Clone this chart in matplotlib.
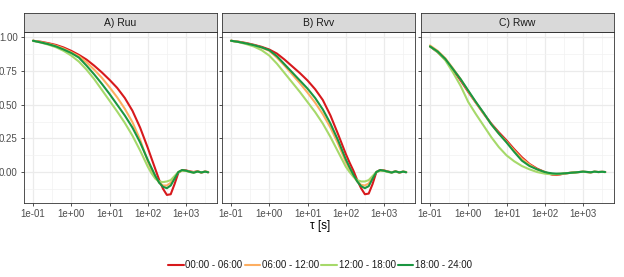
import numpy as np
import matplotlib
matplotlib.use("Agg")
from matplotlib import pyplot as plt

plt.rcParams['font.family'] = ['Liberation Sans', 'DejaVu Sans']

# log10(tau) sample points shared by all curves
log_tau = [-1.0, -0.8, -0.6, -0.4, -0.2, 0.0, 0.2, 0.4, 0.6, 0.8, 1.0, 1.2, 1.4, 1.6,
           1.8, 2.0, 2.1, 2.2, 2.3, 2.4, 2.5, 2.6, 2.7, 2.8, 2.9, 3.0, 3.1, 3.2, 3.3,
           3.4, 3.5, 3.58]

periods = ["00:00 - 06:00", "06:00 - 12:00", "12:00 - 18:00", "18:00 - 24:00"]
colors = ["#D7191C", "#FDAE61", "#A6D96A", "#1A9641"]
panels = ["A) Ruu", "B) Rvv", "C) Rww"]

# A) Ruu
ruu_00 = [0.975, 0.968, 0.957, 0.944, 0.925, 0.90, 0.87, 0.835, 0.79, 0.74, 0.685, 0.625, 0.55, 0.455,
          0.33, 0.18, 0.10, 0.02, -0.06, -0.125, -0.17, -0.165, -0.09, -0.005, 0.015, 0.012, 0.005, 0.0,
          0.006, -0.004, 0.004, -0.002]
ruu_06 = [0.975, 0.965, 0.953, 0.938, 0.917, 0.89, 0.86, 0.815, 0.76, 0.70, 0.63, 0.555, 0.47, 0.37,
          0.24, 0.08, 0.015, -0.04, -0.08, -0.10, -0.10, -0.08, -0.04, 0.0, 0.01, 0.008, 0.002, -0.003,
          0.004, -0.003, 0.003, 0.0]
ruu_12 = [0.975, 0.962, 0.946, 0.927, 0.90, 0.865, 0.82, 0.76, 0.69, 0.61, 0.53, 0.45, 0.365, 0.27,
          0.16, 0.04, -0.01, -0.05, -0.07, -0.075, -0.07, -0.06, -0.03, 0.0, 0.01, 0.008, 0.0, -0.004,
          0.003, -0.002, 0.002, 0.0]
ruu_18 = [0.975, 0.963, 0.95, 0.933, 0.91, 0.884, 0.85, 0.79, 0.725, 0.655, 0.58, 0.50, 0.42, 0.33,
          0.22, 0.09, 0.03, -0.03, -0.08, -0.11, -0.12, -0.10, -0.05, 0.0, 0.015, 0.01, 0.002, -0.005,
          0.004, -0.003, 0.003, -0.002]

# B) Rvv
rvv_00 = [0.975, 0.968, 0.958, 0.945, 0.93, 0.91, 0.88, 0.835, 0.785, 0.735, 0.68, 0.615, 0.535, 0.42,
          0.28, 0.135, 0.07, 0.01, -0.06, -0.12, -0.165, -0.16, -0.09, 0.0, 0.015, 0.012, 0.004, -0.002,
          0.005, -0.004, 0.003, -0.001]
rvv_06 = [0.975, 0.966, 0.955, 0.941, 0.924, 0.90, 0.85, 0.79, 0.725, 0.66, 0.59, 0.515, 0.43, 0.33,
          0.21, 0.075, 0.02, -0.03, -0.07, -0.095, -0.10, -0.085, -0.04, 0.0, 0.012, 0.01, 0.002, -0.003,
          0.004, -0.003, 0.002, 0.0]
rvv_12 = [0.975, 0.965, 0.95, 0.932, 0.905, 0.865, 0.805, 0.735, 0.665, 0.595, 0.52, 0.445, 0.36, 0.26,
          0.15, 0.04, 0.0, -0.035, -0.06, -0.07, -0.07, -0.06, -0.03, 0.0, 0.01, 0.008, 0.0, -0.003,
          0.003, -0.002, 0.002, 0.0]
rvv_18 = [0.975, 0.966, 0.955, 0.942, 0.926, 0.905, 0.86, 0.80, 0.74, 0.68, 0.62, 0.55, 0.465, 0.36,
          0.235, 0.095, 0.035, -0.02, -0.07, -0.105, -0.12, -0.105, -0.05, 0.0, 0.015, 0.01, 0.003, -0.004,
          0.005, -0.003, 0.003, -0.002]

# C) Rww
rww_00 = [0.933, 0.89, 0.835, 0.76, 0.68, 0.595, 0.515, 0.435, 0.36, 0.295, 0.235, 0.17, 0.11, 0.06,
          0.025, 0.0, -0.012, -0.02, -0.022, -0.018, -0.012, -0.008, -0.005, -0.002, 0.0, 0.002, 0.0,
          -0.002, 0.002, 0.0, 0.001, 0.0]
rww_06 = [0.94, 0.90, 0.845, 0.77, 0.69, 0.60, 0.515, 0.435, 0.355, 0.285, 0.225, 0.16, 0.10, 0.055,
          0.02, 0.0, -0.01, -0.016, -0.018, -0.016, -0.012, -0.008, -0.005, -0.003, 0.0, 0.002, 0.0,
          -0.002, 0.002, 0.0, 0.001, 0.0]
rww_12 = [0.933, 0.89, 0.83, 0.74, 0.64, 0.52, 0.43, 0.345, 0.26, 0.185, 0.124, 0.08, 0.045, 0.02,
          0.0, -0.012, -0.015, -0.016, -0.015, -0.012, -0.01, -0.008, -0.005, -0.003, 0.0, 0.002, 0.0,
          -0.002, 0.002, 0.0, 0.001, 0.0]
rww_18 = [0.933, 0.895, 0.84, 0.765, 0.69, 0.605, 0.52, 0.44, 0.355, 0.285, 0.22, 0.15, 0.085, 0.045,
          0.02, 0.0, -0.006, -0.01, -0.012, -0.012, -0.01, -0.008, -0.005, -0.003, 0.0, 0.003, 0.001,
          -0.002, 0.003, 0.0, 0.002, 0.0]

data = [[ruu_00, ruu_06, ruu_12, ruu_18],
        [rvv_00, rvv_06, rvv_12, rvv_18],
        [rww_00, rww_06, rww_12, rww_18]]

tau = 10 ** np.array(log_tau)

W, H = 624, 277
fig = plt.figure(figsize=(W / 100, H / 100), dpi=100)

lefts = [24, 222, 421]
pw = 193
top, bottom, strip_top = 32, 203, 13

major_x = [1e-1, 1e0, 1e1, 1e2, 1e3]
xlabels = ["1e-01", "1e+00", "1e+01", "1e+02", "1e+03"]
minor_x = [10 ** v for v in (-0.5, 0.5, 1.5, 2.5, 3.5)]
major_y = [0.0, 0.25, 0.5, 0.75, 1.0]
minor_y = [-0.125, 0.125, 0.375, 0.625, 0.875]

lines = []
for i, (title, series) in enumerate(zip(panels, data)):
    ax = fig.add_axes([lefts[i] / W, (H - bottom) / H, pw / W, (bottom - top) / H])
    ax.set_xscale("log")
    ax.set_xlim(10 ** -1.235, 10 ** 3.81)
    ax.set_ylim(-0.23, 1.04)
    ax.set_xticks(major_x)
    ax.set_xticklabels(xlabels)
    ax.set_xticks(minor_x, minor=True)
    ax.set_yticks(major_y)
    ax.set_yticks(minor_y, minor=True)
    if i == 0:
        ax.set_yticklabels(["0.00", "0.25", "0.50", "0.75", "1.00"])
    else:
        ax.set_yticklabels([])
        ax.tick_params(axis="y", length=0)
    ax.tick_params(which="minor", length=0)
    ax.tick_params(which="major", length=2.5, width=0.6, color="#333333",
                   labelsize=7, labelcolor="#4D4D4D", pad=2)
    ax.grid(which="major", color="#EBEBEB", lw=0.9)
    ax.grid(which="minor", color="#F2F2F2", lw=0.5)
    ax.set_axisbelow(True)
    for s in ax.spines.values():
        s.set_color("#333333")
        s.set_linewidth(0.6)
    for y, c, lab in zip(series, colors, periods):
        ln, = ax.plot(tau, y, color=c, lw=1.5, label=lab, solid_capstyle="round",
                      solid_joinstyle="round")
        if i == 0:
            lines.append(ln)

    # strip
    sax = fig.add_axes([lefts[i] / W, (H - top) / H, pw / W, (top - strip_top) / H])
    sax.set_facecolor("#D9D9D9")
    sax.set_xticks([])
    sax.set_yticks([])
    for s in sax.spines.values():
        s.set_color("#333333")
        s.set_linewidth(0.6)
    sax.text(0.5, 0.5, title, ha="center", va="center", fontsize=7.5, color="#1A1A1A",
             transform=sax.transAxes)

fig.text(320 / W, 1 - 226 / H, "τ [s]", ha="center", va="center", fontsize=8.5, color="#000000")

fig.legend(handles=lines, labels=periods, loc="center", bbox_to_anchor=(320 / W, 1 - 265 / H),
           ncol=4, frameon=False, fontsize=7, handlelength=1.6, handletextpad=0.2,
           columnspacing=0.2, labelcolor="#1A1A1A")

fig.savefig("out.png", dpi=100)
